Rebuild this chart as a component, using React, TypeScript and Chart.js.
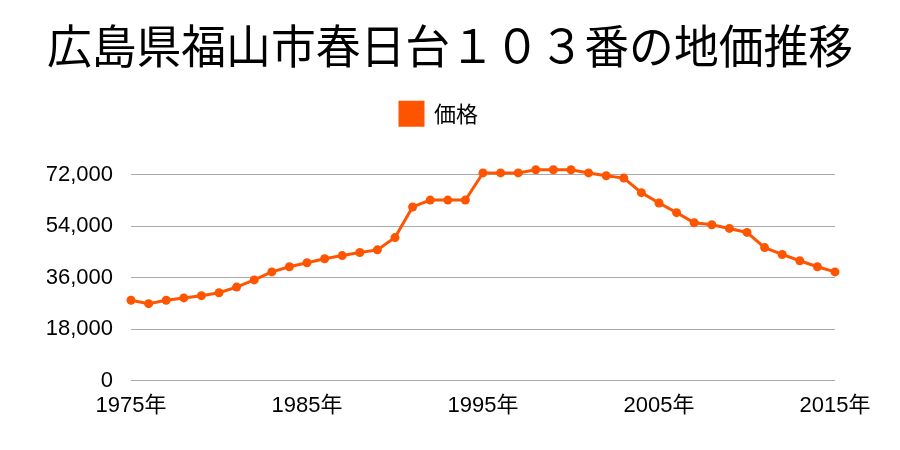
import React, { useEffect, useRef } from "react";
import { Chart, registerables } from "chart.js";

Chart.register(...registerables);

const titleText = "広島県福山市春日台１０３番の地価推移";
const seriesName = "価格";
const years = [
  1975, 1976, 1977, 1978, 1979, 1980, 1981, 1982, 1983, 1984,
  1985, 1986, 1987, 1988, 1989, 1990, 1991, 1992, 1993, 1994,
  1995, 1996, 1997, 1998, 1999, 2000, 2001, 2002, 2003, 2004,
  2005, 2006, 2007, 2008, 2009, 2010, 2011, 2012, 2013, 2014, 2015,
];
const prices = [
  28100, 26900, 28100, 28900, 29700, 30700, 32700, 35200, 38000, 39800,
  41200, 42600, 43700, 44800, 45700, 50000, 60700, 63100, 63100, 63100,
  72600, 72600, 72600, 73700, 73700, 73700, 72600, 71600, 70800, 65700,
  62100, 58700, 55200, 54500, 53200, 51800, 46500, 44100, 41900, 39800, 38000,
];
const yTicks = [0, 18000, 36000, 54000, 72000];

const CJK = "'Noto Sans CJK JP', sans-serif";
const NUM = "'Liberation Sans', 'Noto Sans CJK JP', sans-serif";
const ORANGE = "#ff5500";

const legendGap = {
  id: "legendGap",
  afterInit(chart: any) {
    const legend = chart.legend;
    if (!legend) return;
    const fit = legend.fit;
    legend.fit = function () {
      fit.call(legend);
      legend.height += 28;
    };
  },
  afterLayout(chart: any) {
    const legend = chart.legend;
    if (!legend) return;
    legend.left -= 11;
    legend.right -= 11;
  },
};

export default function App() {
  const ref = useRef<HTMLCanvasElement | null>(null);
  useEffect(() => {
    document.body.style.margin = "0";
    if (!ref.current) return;
    const chart = new Chart(ref.current, {
      type: "line",
      data: {
        labels: years.map((y) => String(y)),
        datasets: [
          {
            label: seriesName,
            data: prices,
            borderColor: ORANGE,
            backgroundColor: ORANGE,
            borderWidth: 3,
            pointRadius: 4.5,
            pointBackgroundColor: ORANGE,
            pointBorderWidth: 0,
            tension: 0,
            clip: false as any,
          },
        ],
      },
      plugins: [legendGap],
      options: {
        responsive: false,
        animation: false,
        layout: { padding: { left: 47, right: 47, top: 0, bottom: 19 } },
        plugins: {
          title: {
            display: true,
            text: titleText,
            color: "#000",
            font: { family: CJK, size: 46, weight: "normal", lineHeight: 1.2 },
            padding: { top: 18, bottom: 19 },
          },
          legend: {
            display: true,
            labels: {
              color: "#000",
              boxWidth: 23,
              boxHeight: 23,
              padding: 10,
              font: { family: CJK, size: 22 },
            },
          },
          tooltip: { enabled: false },
        },
        scales: {
          x: {
            type: "category",
            offset: false,
            grid: { display: false, drawTicks: false },
            border: { display: false },
            ticks: {
              autoSkip: false,
              maxRotation: 0,
              color: "#000",
              padding: 12,
              font: { family: NUM, size: 22 },
              callback: (_v: any, i: number) =>
                (years[i] - 1975) % 10 === 0 ? `${years[i]}年` : "",
            },
          },
          y: {
            min: 0,
            max: 76000,
            afterBuildTicks: (axis: any) => {
              axis.ticks = yTicks.map((v) => ({ value: v }));
            },
            afterFit: (axis: any) => {
              axis.width = 84;
            },
            grid: { color: "#aaaaaa", drawTicks: false, lineWidth: 1 },
            border: { display: false },
            ticks: {
              color: "#000",
              padding: 18,
              font: { family: NUM, size: 22 },
              callback: (v: any) => Number(v).toLocaleString("en-US"),
            },
          },
          yRight: {
            position: "right",
            min: 0,
            max: 76000,
            grid: { display: false, drawTicks: false },
            border: { display: false },
            ticks: { display: false },
            afterFit: (axis: any) => {
              axis.width = 18;
            },
          },
        },
      },
    });
    return () => chart.destroy();
  }, []);
  return (
    <div style={{ width: 900, height: 450 }}>
      <canvas ref={ref} width={900} height={450} />
    </div>
  );
}
